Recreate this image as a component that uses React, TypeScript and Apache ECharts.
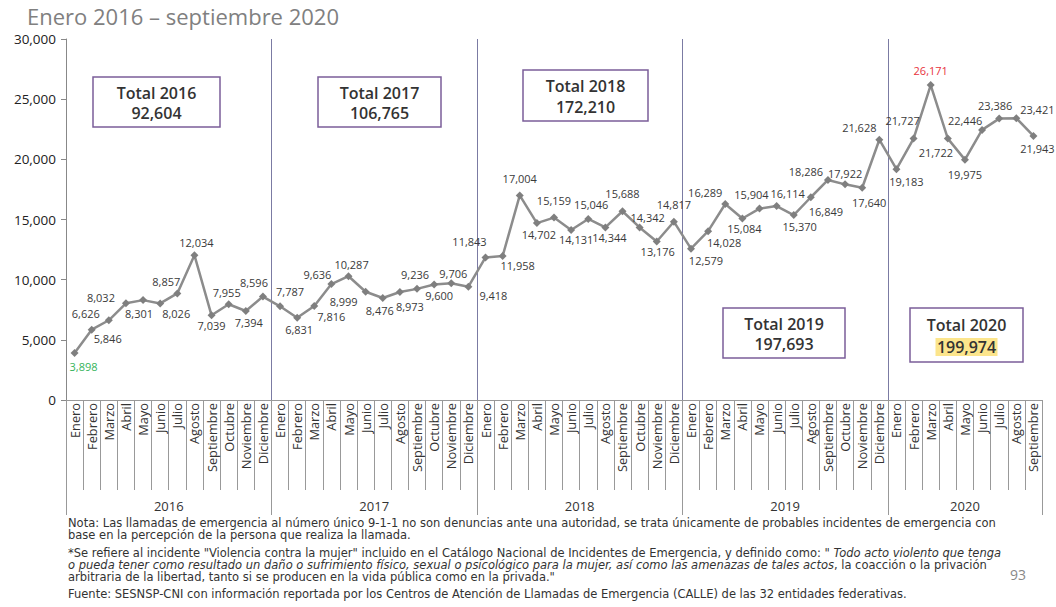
import { useEffect, useRef } from 'react';
import * as echarts from 'echarts';

const FONT = '"Open Sans", Lato, sans-serif';
const FOOT_FONT = '"DejaVu Sans", "Open Sans", sans-serif';

const monthNames = ['Enero', 'Febrero', 'Marzo', 'Abril', 'Mayo', 'Junio', 'Julio', 'Agosto', 'Septiembre', 'Octubre', 'Noviembre', 'Diciembre'];
const years = ['2016', '2017', '2018', '2019', '2020'];

const values2016 = [3898, 5846, 6626, 8032, 8301, 8026, 8857, 12034, 7039, 7955, 7394, 8596];
const values2017 = [7787, 6831, 7816, 9636, 10287, 8999, 8476, 8973, 9236, 9600, 9706, 9418];
const values2018 = [11843, 11958, 17004, 14702, 15159, 14131, 15046, 14344, 15688, 14342, 13176, 14817];
const values2019 = [12579, 14028, 16289, 15084, 15904, 16114, 15370, 16849, 18286, 17922, 17640, 21628];
const values2020 = [19183, 21727, 26171, 21722, 19975, 22446, 23386, 23421, 21943];
const yearValues = [values2016, values2017, values2018, values2019, values2020];

const yMin = 0;
const yMax = 30000;
const yStep = 5000;

const title = 'Enero 2016 – septiembre 2020';

// label placement (dx, dy from the point), style only
const labelOffsets: [number, number][] = [
  [9, 13], [16, 9], [-23, -7], [-25, -6], [-4, 13], [16, 10], [-11, -12], [2, -13], [0, 10], [-2, -12], [3, 11], [-9, -14],
  [10, -15], [2, 12], [17, 11], [-14, -10], [3, -12], [-22, 10], [-3, 12], [10, 14], [-2, -14], [5, 11], [2, -10], [25, 9],
  [-16, -16], [15, 9], [0, -17], [2, 11], [0, -17], [5, 10], [3, -14], [4, 10], [0, -18], [8, -10], [1, 10], [0, -17],
  [15, 12], [16, 11], [-20, -11], [2, 10], [-8, -14], [11, -13], [6, 11], [15, 14], [-22, -8], [0, -11], [7, 15], [-20, -12],
  [10, 12], [-11, -18], [0, -15], [-12, 14], [0, 15], [-17, -9], [-4, -13], [21, -9], [4, 13],
];

// total boxes placement (style only)
const boxes = [
  { x: 93, y: 77, w: 127, h: 50 },
  { x: 318, y: 77, w: 123, h: 50 },
  { x: 523, y: 70, w: 125, h: 51 },
  { x: 723, y: 308, w: 122, h: 50 },
  { x: 910, y: 308, w: 113, h: 54 },
];

const footLines = [
  { y: 523, text: '{n|Nota: Las llamadas de emergencia al número único 9-1-1 no son denuncias ante una autoridad, se trata únicamente de probables incidentes de emergencia con}' },
  { y: 535, text: '{n|base en la percepción de la persona que realiza la llamada.}' },
  { y: 553, text: '{n|*Se refiere al incidente "Violencia contra la mujer" incluido en el Catálogo Nacional de Incidentes de Emergencia, y definido como: }{i|" Todo acto violento que tenga}' },
  { y: 565, text: '{i|o pueda tener como resultado un daño o sufrimiento físico, sexual o psicológico para la mujer, así como las amenazas de tales actos}{n|, la coacción o la privación}' },
  { y: 577, text: '{n|arbitraria de la libertad, tanto si se producen en la vida pública como en la privada."}' },
  { y: 594, text: '{n|Fuente: SESNSP-CNI con información reportada por los Centros de Atención de Llamadas de Emergencia (CALLE) de las 32 entidades federativas.}' },
];
const pageNumber = '93';

const fmt = (v: number) => Number(v).toLocaleString('en-US');

export default function App() {
  const ref = useRef<HTMLDivElement>(null);

  useEffect(() => {
    if (!ref.current) return;
    const chart = echarts.init(ref.current, null, { renderer: 'svg' });

    const allValues = yearValues.flat();
    const categories = years.flatMap((y, yi) => yearValues[yi].map((_, mi) => `${monthNames[mi]}|${y}`));
    const maxV = Math.max(...allValues);
    const minV = Math.min(...allValues);

    // year axis built on half-month points
    const n2 = allValues.length * 2 + 1;
    const yearAxisData = Array.from({ length: n2 }, (_, i) => String(i));
    const yearLabelAt = new Map<number, string>();
    const boundaries = new Set<number>();
    let start = 0;
    years.forEach((y, yi) => {
      const c = yearValues[yi].length;
      boundaries.add(start * 2);
      yearLabelAt.set(start * 2 + c, y);
      start += c;
    });
    boundaries.add(start * 2);
    const innerBoundaries = new Set([...boundaries].filter((b) => b !== 0 && b !== start * 2));

    const totals = yearValues.map((arr) => arr.reduce((a, b) => a + b, 0));

    const FN = 11.5;
    const BF = 16;
    const graphics: any[] = [
      {
        type: 'text', x: 27, y: 16, z: 10,
        style: { text: title, fill: '#808080', fontSize: 22, fontFamily: FONT, textVerticalAlign: 'middle', verticalAlign: 'middle' },
      },
    ];
    years.forEach((y, i) => {
      const b = boxes[i];
      graphics.push({
        type: 'rect', z: 10,
        shape: { x: b.x, y: b.y, width: b.w, height: b.h },
        style: { fill: '#ffffff', stroke: '#7b5e99', lineWidth: 1.5 },
      });
      const cx = b.x + b.w / 2;
      const y1 = b.y + b.h * 0.31;
      const y2 = b.y + b.h * 0.72;
      if (i === years.length - 1) {
        graphics.push({
          type: 'rect', z: 11,
          shape: { x: cx - 31, y: y2 - 9, width: 62, height: 18 },
          style: { fill: '#fce58c' },
        });
      }
      graphics.push({
        type: 'text', x: cx, y: y1, z: 12,
        style: { text: `Total ${y}`, fill: '#333', fontSize: BF, fontWeight: 600, fontFamily: FONT, textAlign: 'center', align: 'center', textVerticalAlign: 'middle', verticalAlign: 'middle' },
      });
      graphics.push({
        type: 'text', x: cx, y: y2, z: 12,
        style: { text: fmt(totals[i]), fill: '#333', fontSize: BF, fontWeight: 600, fontFamily: FONT, textAlign: 'center', align: 'center', textVerticalAlign: 'middle', verticalAlign: 'middle' },
      });
    });
    footLines.forEach((l) => {
      graphics.push({
        type: 'text', x: 68, y: l.y, z: 10,
        style: {
          text: l.text, fontSize: FN, lineHeight: 11.5, fontFamily: FOOT_FONT, fill: '#333',
          textVerticalAlign: 'middle', verticalAlign: 'middle',
          rich: {
            n: { fontSize: FN, lineHeight: 11.5, fontFamily: FOOT_FONT, fill: '#333', color: '#333' },
            i: { fontSize: FN, lineHeight: 11.5, fontFamily: FOOT_FONT, fontStyle: 'italic', fill: '#333', color: '#333' },
          },
        },
      });
    });
    graphics.push({
      type: 'text', x: 1018, y: 574, z: 10,
      style: { text: pageNumber, fill: '#888', fontSize: 14, fontFamily: FONT, textAlign: 'center', align: 'center', textVerticalAlign: 'middle', verticalAlign: 'middle' },
    });

    chart.setOption({
      animation: false,
      backgroundColor: '#ffffff',
      textStyle: { fontFamily: FONT },
      grid: { left: 66, right: 14, top: 39, bottom: 207, containLabel: false },
      xAxis: [
        {
          type: 'category',
          data: categories,
          boundaryGap: true,
          position: 'bottom',
          axisLine: { show: true, onZero: false, lineStyle: { color: '#999', width: 1 } },
          axisTick: { show: true, interval: 0, length: 90, lineStyle: { color: '#999', width: 1 } },
          axisLabel: {
            interval: 0, rotate: 90, margin: 3, fontSize: 12.8, color: '#333', fontFamily: FONT,
            formatter: (v: string) => v.split('|')[0],
          },
          splitLine: { show: false },
        },
        {
          type: 'category',
          data: yearAxisData,
          boundaryGap: false,
          position: 'bottom',
          min: 0,
          max: n2 - 1,
          axisLine: { show: false, onZero: false },
          axisTick: {
            show: true, length: 115,
            interval: (idx: number) => boundaries.has(idx),
            lineStyle: { color: '#999', width: 1 },
          },
          splitLine: {
            show: true,
            interval: (idx: number) => innerBoundaries.has(idx),
            lineStyle: { color: '#7b7ba3', width: 1 },
          },
          axisLabel: {
            show: true, margin: 99, fontSize: 13, color: '#333', fontFamily: FONT,
            interval: (idx: number) => yearLabelAt.has(idx),
            formatter: (_v: string, idx: number) => yearLabelAt.get(idx) ?? '',
          },
        },
      ],
      yAxis: {
        type: 'value',
        min: yMin,
        max: yMax,
        interval: yStep,
        axisLine: { show: true, lineStyle: { color: '#888', width: 1 } },
        axisTick: { show: true, length: 5, lineStyle: { color: '#888' } },
        axisLabel: { margin: 10, fontSize: 13.5, color: '#222', fontFamily: FONT, formatter: (v: number) => fmt(v) },
        splitLine: { show: false },
      },
      graphic: graphics,
      series: [
        {
          type: 'line',
          xAxisIndex: 0,
          yAxisIndex: 0,
          data: allValues.map((v, i) => ({
            value: v,
            label: {
              offset: labelOffsets[i],
              color: v === maxV ? '#e8323c' : v === minV ? '#34b45a' : '#3a3a3a',
            },
          })),
          symbol: 'diamond',
          symbolSize: 8,
          lineStyle: { color: '#8c8c8c', width: 2.5 },
          itemStyle: { color: '#7f7f7f' },
          label: {
            show: true,
            position: 'inside',
            fontSize: 11,
            fontFamily: FONT,
            color: '#3a3a3a',
            formatter: (p: any) => fmt(p.value),
          },
          emphasis: { disabled: true },
        },
      ],
    });

    return () => chart.dispose();
  }, []);

  return <div ref={ref} style={{ position: 'fixed', left: 0, top: 0, width: 1056, height: 607 }} />;
}
